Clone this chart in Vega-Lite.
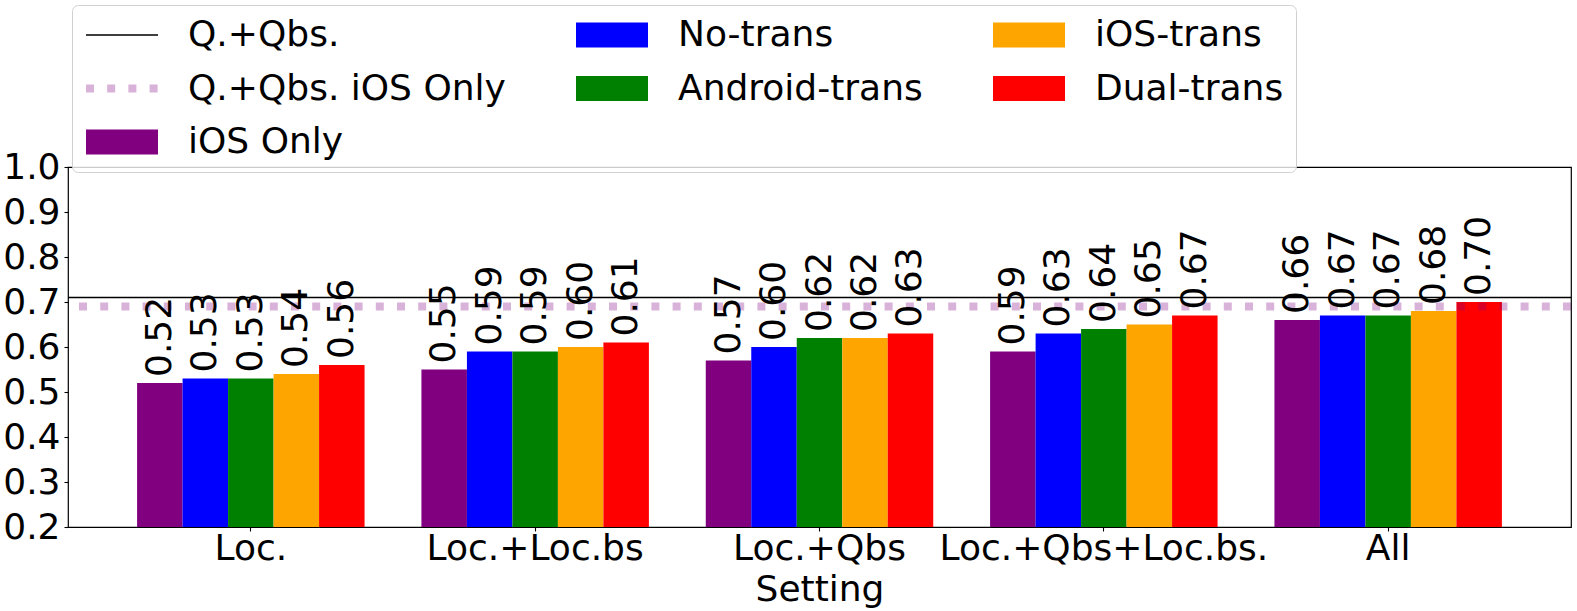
{
  "$schema": "https://vega.github.io/schema/vega-lite/v6.json",
  "autosize": "none",
  "width": 1503,
  "height": 360,
  "padding": {"left": 68, "top": 167, "right": 6, "bottom": 84},
  "background": "white",
  "datasets": {
    "bars": [
      {"setting": "Loc.", "series": "iOS Only", "value": 0.52},
      {"setting": "Loc.", "series": "No-trans", "value": 0.53},
      {"setting": "Loc.", "series": "Android-trans", "value": 0.53},
      {"setting": "Loc.", "series": "iOS-trans", "value": 0.54},
      {"setting": "Loc.", "series": "Dual-trans", "value": 0.56},
      {"setting": "Loc.+Loc.bs", "series": "iOS Only", "value": 0.55},
      {"setting": "Loc.+Loc.bs", "series": "No-trans", "value": 0.59},
      {"setting": "Loc.+Loc.bs", "series": "Android-trans", "value": 0.59},
      {"setting": "Loc.+Loc.bs", "series": "iOS-trans", "value": 0.60},
      {"setting": "Loc.+Loc.bs", "series": "Dual-trans", "value": 0.61},
      {"setting": "Loc.+Qbs", "series": "iOS Only", "value": 0.57},
      {"setting": "Loc.+Qbs", "series": "No-trans", "value": 0.60},
      {"setting": "Loc.+Qbs", "series": "Android-trans", "value": 0.62},
      {"setting": "Loc.+Qbs", "series": "iOS-trans", "value": 0.62},
      {"setting": "Loc.+Qbs", "series": "Dual-trans", "value": 0.63},
      {"setting": "Loc.+Qbs+Loc.bs.", "series": "iOS Only", "value": 0.59},
      {"setting": "Loc.+Qbs+Loc.bs.", "series": "No-trans", "value": 0.63},
      {"setting": "Loc.+Qbs+Loc.bs.", "series": "Android-trans", "value": 0.64},
      {"setting": "Loc.+Qbs+Loc.bs.", "series": "iOS-trans", "value": 0.65},
      {"setting": "Loc.+Qbs+Loc.bs.", "series": "Dual-trans", "value": 0.67},
      {"setting": "All", "series": "iOS Only", "value": 0.66},
      {"setting": "All", "series": "No-trans", "value": 0.67},
      {"setting": "All", "series": "Android-trans", "value": 0.67},
      {"setting": "All", "series": "iOS-trans", "value": 0.68},
      {"setting": "All", "series": "Dual-trans", "value": 0.70}
    ],
    "lines": [
      {"series": "Q.+Qbs.", "value": 0.71},
      {"series": "Q.+Qbs. iOS Only", "value": 0.69}
    ]
  },
  "layer": [
    {
      "data": {"name": "bars"},
      "mark": {"type": "bar", "clip": true},
      "encoding": {
        "x": {
          "field": "setting",
          "type": "nominal",
          "sort": ["Loc.", "Loc.+Loc.bs", "Loc.+Qbs", "Loc.+Qbs+Loc.bs.", "All"],
          "scale": {"paddingInner": 0.2, "paddingOuter": 0.243},
          "axis": {"labelAngle": 0, "title": "Setting", "tickSize": 4, "labelPadding": 0, "titlePadding": 6, "labelLimit": 0}
        },
        "xOffset": {
          "field": "series",
          "type": "nominal",
          "scale": {"domain": ["iOS Only", "No-trans", "Android-trans", "iOS-trans", "Dual-trans"], "paddingInner": 0, "paddingOuter": 0}
        },
        "y": {
          "field": "value",
          "type": "quantitative",
          "scale": {"domain": [0.2, 1.0], "nice": false, "zero": false},
          "axis": {"title": null, "values": [0.2, 0.3, 0.4, 0.5, 0.6, 0.7, 0.8, 0.9, 1.0], "format": ".1f", "tickSize": 4, "labelPadding": 4}
        },
        "color": {
          "field": "series",
          "type": "nominal",
          "scale": {
            "domain": ["Q.+Qbs.", "No-trans", "iOS-trans", "Q.+Qbs. iOS Only", "Android-trans", "Dual-trans", "iOS Only"],
            "range": ["black", "blue", "orange", "rgba(128,0,128,0.3)", "green", "red", "purple"]
          },
          "legend": {
            "title": null,
            "orient": "none",
            "direction": "horizontal",
            "legendX": 4,
            "legendY": -162,
            "columns": 3,
            "columnPadding": 68,
            "rowPadding": 17.5,
            "symbolSize": 5184,
            "labelLimit": 0,
            "padding": 12,
            "strokeColor": "#d0d0d0",
            "fillColor": "rgba(255,255,255,0.8)",
            "cornerRadius": 6,
            "encode": {
              "symbols": {
                "update": {
                  "x": {"value": 38},
                  "shape": {"signal": "datum.value === 'Q.+Qbs.' || datum.value === 'Q.+Qbs. iOS Only' ? 'M-1,0H1' : 'M-1,-0.347H1V0.347H-1Z'"},
                  "fill": {"signal": "datum.value === 'Q.+Qbs.' || datum.value === 'Q.+Qbs. iOS Only' ? 'transparent' : scale('color', datum.value)"},
                  "stroke": {"signal": "datum.value === 'Q.+Qbs.' || datum.value === 'Q.+Qbs. iOS Only' ? scale('color', datum.value) : 'transparent'"},
                  "strokeWidth": {"signal": "datum.value === 'Q.+Qbs.' ? 1.5 : datum.value === 'Q.+Qbs. iOS Only' ? 8 : 0"},
                  "strokeDash": {"signal": "datum.value === 'Q.+Qbs. iOS Only' ? [8, 13.2] : [1, 0]"},
                  "strokeCap": {"value": "butt"},
                  "opacity": {"value": 1}
                }
              },
              "labels": {
                "update": {"x": {"value": 104}}
              }
            }
          }
        }
      }
    },
    {
      "data": {"name": "lines"},
      "transform": [{"filter": "datum.series === 'Q.+Qbs.'"}],
      "mark": {"type": "rule", "strokeWidth": 1.5},
      "encoding": {
        "y": {"field": "value", "type": "quantitative"},
        "color": {"field": "series", "type": "nominal"}
      }
    },
    {
      "data": {"name": "lines"},
      "transform": [{"filter": "datum.series === 'Q.+Qbs. iOS Only'"}],
      "mark": {"type": "rule", "strokeWidth": 8, "strokeDash": [8, 13.2], "strokeCap": "butt"},
      "encoding": {
        "y": {"field": "value", "type": "quantitative"},
        "color": {"field": "series", "type": "nominal"}
      }
    },
    {
      "data": {"name": "bars"},
      "mark": {"type": "text", "angle": 270, "align": "left", "baseline": "middle", "dx": 6, "fontSize": 36, "color": "black"},
      "encoding": {
        "x": {"field": "setting", "type": "nominal", "sort": ["Loc.", "Loc.+Loc.bs", "Loc.+Qbs", "Loc.+Qbs+Loc.bs.", "All"]},
        "xOffset": {"field": "series", "type": "nominal"},
        "y": {"field": "value", "type": "quantitative"},
        "text": {"field": "value", "type": "quantitative", "format": ".2f"}
      }
    }
  ],
  "config": {
    "font": "DejaVu Sans",
    "view": {"stroke": "black", "strokeWidth": 1.2},
    "axis": {
      "domain": false,
      "grid": false,
      "tickColor": "black",
      "tickWidth": 1.1,
      "labelColor": "black",
      "labelFontSize": 36,
      "titleFontSize": 36,
      "titleFontWeight": "normal",
      "titleColor": "black"
    },
    "legend": {"labelFontSize": 36, "labelColor": "black"}
  }
}
